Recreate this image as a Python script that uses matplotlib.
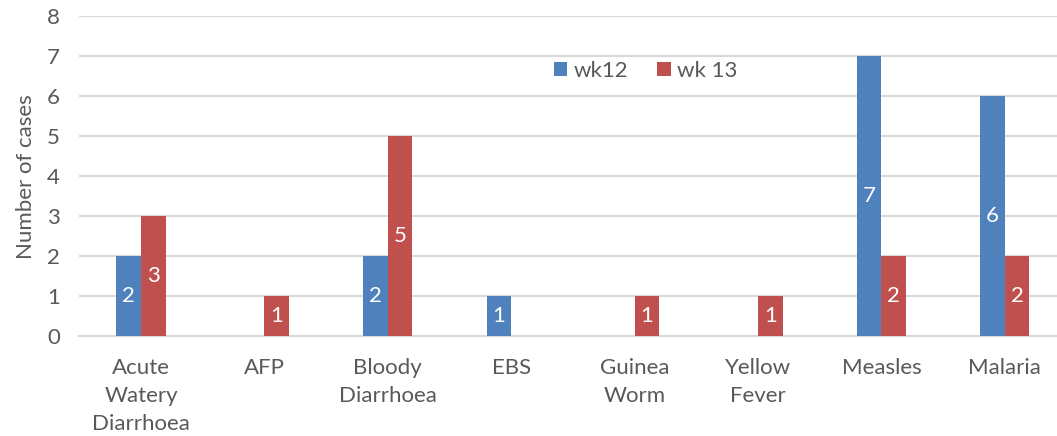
import numpy as np
import matplotlib
matplotlib.use("Agg")
import matplotlib.pyplot as plt

# data
categories = ["Acute\nWatery\nDiarrhoea", "AFP", "Bloody\nDiarrhoea", "EBS",
              "Guinea\nWorm", "Yellow\nFever", "Measles", "Malaria"]
wk12 = [2, 0, 2, 1, 0, 0, 7, 6]
wk13 = [3, 1, 5, 0, 1, 1, 2, 2]
series_names = ["wk12", "wk 13"]
yticks = [0, 1, 2, 3, 4, 5, 6, 7, 8]

blue = "#4F81BD"
red = "#C0504D"
grey_text = "#595959"
grid_col = "#D9D9D9"

plt.rcParams['font.family'] = ['Lato', 'DejaVu Sans']

fig = plt.figure(figsize=(10.57, 4.36), dpi=100)
# the plot area runs a little past the right edge, as in the cropped original
ax = fig.add_axes([0.075, 0.229, 0.934, 0.734])

x = np.arange(len(categories))
w = 0.2
b1 = ax.bar(x - w / 2, wk12, w, color=blue, label=series_names[0], zorder=3)
b2 = ax.bar(x + w / 2, wk13, w, color=red, label=series_names[1], zorder=3)

# value labels in the middle of each non-zero bar
for bars, vals in ((b1, wk12), (b2, wk13)):
    for rect, v in zip(bars, vals):
        if v == 0:
            continue
        ax.text(rect.get_x() + rect.get_width() / 2, v / 2, str(v),
                ha="center", va="center", color="white", fontsize=16, zorder=4)

ax.set_xlim(-0.5, len(categories) - 0.5)
ax.set_ylim(0, 8)
ax.set_yticks(yticks)
ax.yaxis.grid(True, color=grid_col, linewidth=1.5, zorder=0)
ax.set_axisbelow(True)
for s in ["top", "right", "left"]:
    ax.spines[s].set_visible(False)
ax.spines["bottom"].set_color(grid_col)
ax.spines["bottom"].set_linewidth(1.5)
ax.tick_params(axis="both", length=0, labelsize=16, colors=grey_text)
ax.tick_params(axis="x", pad=16)
ax.tick_params(axis="y", pad=14)
ax.set_xticks(x)
ax.set_xticklabels(categories, linespacing=1.5)
ax.set_ylabel("Number of cases", fontsize=16, color=grey_text, labelpad=8)

ax.legend(loc="center", bbox_to_anchor=(0.611, 0.838), bbox_transform=fig.transFigure,
          ncol=2, frameon=False, fontsize=16, handlelength=0.6, handleheight=0.6,
          columnspacing=1.3, handletextpad=0.3, labelcolor=grey_text)

fig.savefig("out.png", dpi=100)
